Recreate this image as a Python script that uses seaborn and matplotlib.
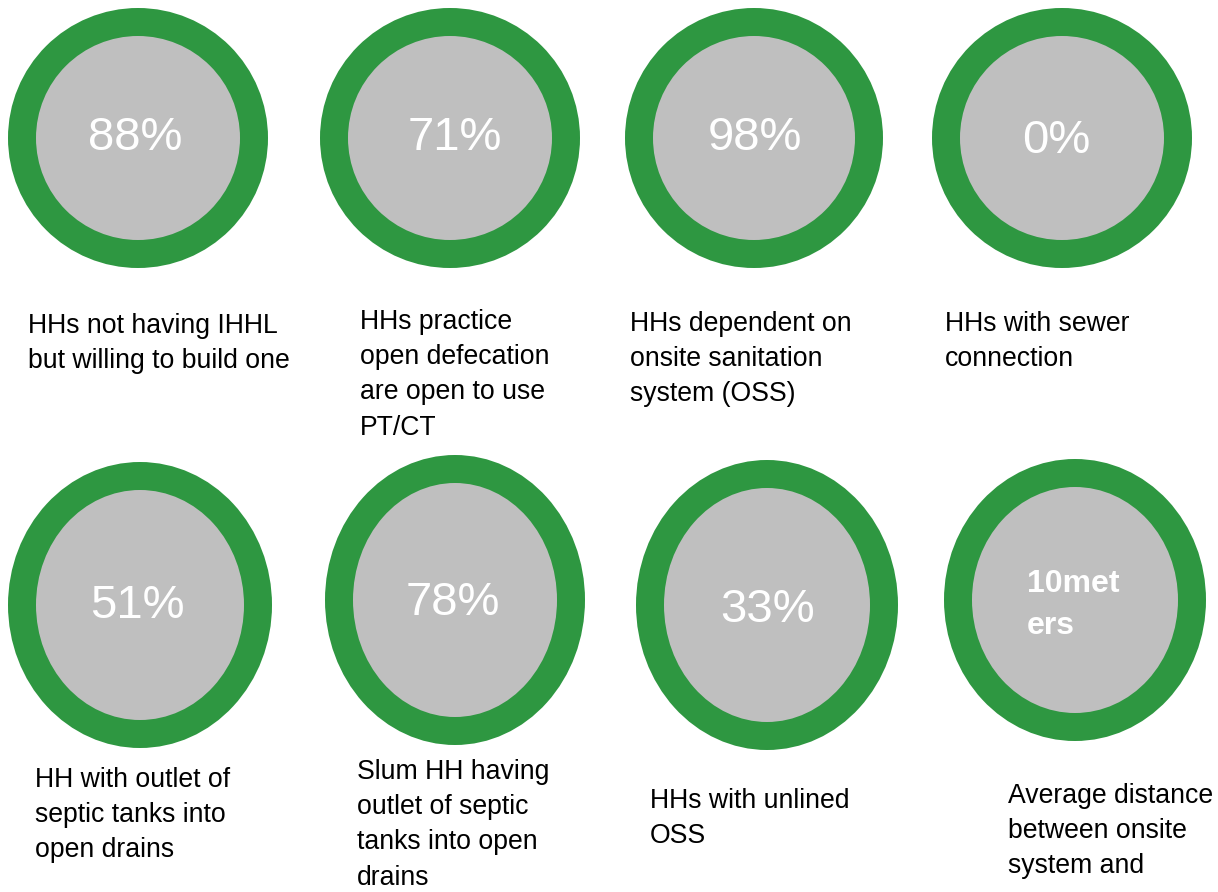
import numpy as np
import pandas as pd
import matplotlib
matplotlib.use("Agg")
import matplotlib.pyplot as plt
import seaborn as sns
from matplotlib.patches import Ellipse

# values shown inside the rings
values = ["88%", "71%", "98%", "0%", "51%", "78%", "33%", "10met\ners"]
captions = [
    "HHs not having IHHL\nbut willing to build one",
    "HHs practice\nopen defecation\nare open to use\nPT/CT",
    "HHs dependent on\nonsite sanitation\nsystem (OSS)",
    "HHs with sewer\nconnection",
    "HH with outlet of\nseptic tanks into\nopen drains",
    "Slum HH having\noutlet of septic\ntanks into open\ndrains",
    "HHs with unlined\nOSS",
    "Average distance\nbetween onsite\nsystem and",
]

# layout (pixel coordinates)
centers = [(138, 138), (450, 138), (754, 138), (1062, 138),
           (140, 605), (455, 600), (767, 605), (1075, 600)]
radii = [(130, 130), (130, 130), (129, 130), (130, 130),
         (132, 143), (130, 145), (131, 145), (131, 141)]
ring = 28
value_pos = [(135, 138), (455, 138), (755, 138), (1056, 141),
             (137, 606), (453, 603), (768, 610), (1027, 605)]
caption_pos = [(28, 313), (360, 309), (630, 311), (945, 311),
               (35, 767), (357, 759), (650, 788), (1008, 783)]

GREEN = "#2e9741"
GRAY = "#bfbfbf"

sns.set_theme(style="white")
plt.rcParams["font.family"] = ["Liberation Sans", "DejaVu Sans"]

fig = plt.figure(figsize=(12.18, 8.92), dpi=100)
ax = fig.add_axes([0, 0, 1, 1])
ax.set_xlim(0, 1218)
ax.set_ylim(892, 0)
ax.axis("off")

for i, (c, r) in enumerate(zip(centers, radii)):
    ax.add_patch(Ellipse(c, 2 * r[0], 2 * r[1], color=GREEN, lw=0))
    ax.add_patch(Ellipse(c, 2 * (r[0] - ring), 2 * (r[1] - ring), color=GRAY, lw=0))
    x, y = value_pos[i]
    if i == 7:
        ax.text(x, y, values[i], color="white", fontsize=23, fontweight="bold",
                ha="left", va="center", linespacing=1.5)
    else:
        ax.text(x, y, values[i], color="white", fontsize=34,
                ha="center", va="center")
    cx, cy = caption_pos[i]
    ax.text(cx, cy, captions[i], color="black", fontsize=19.2,
            ha="left", va="top", linespacing=1.46)

fig.savefig("out.png", dpi=100)
